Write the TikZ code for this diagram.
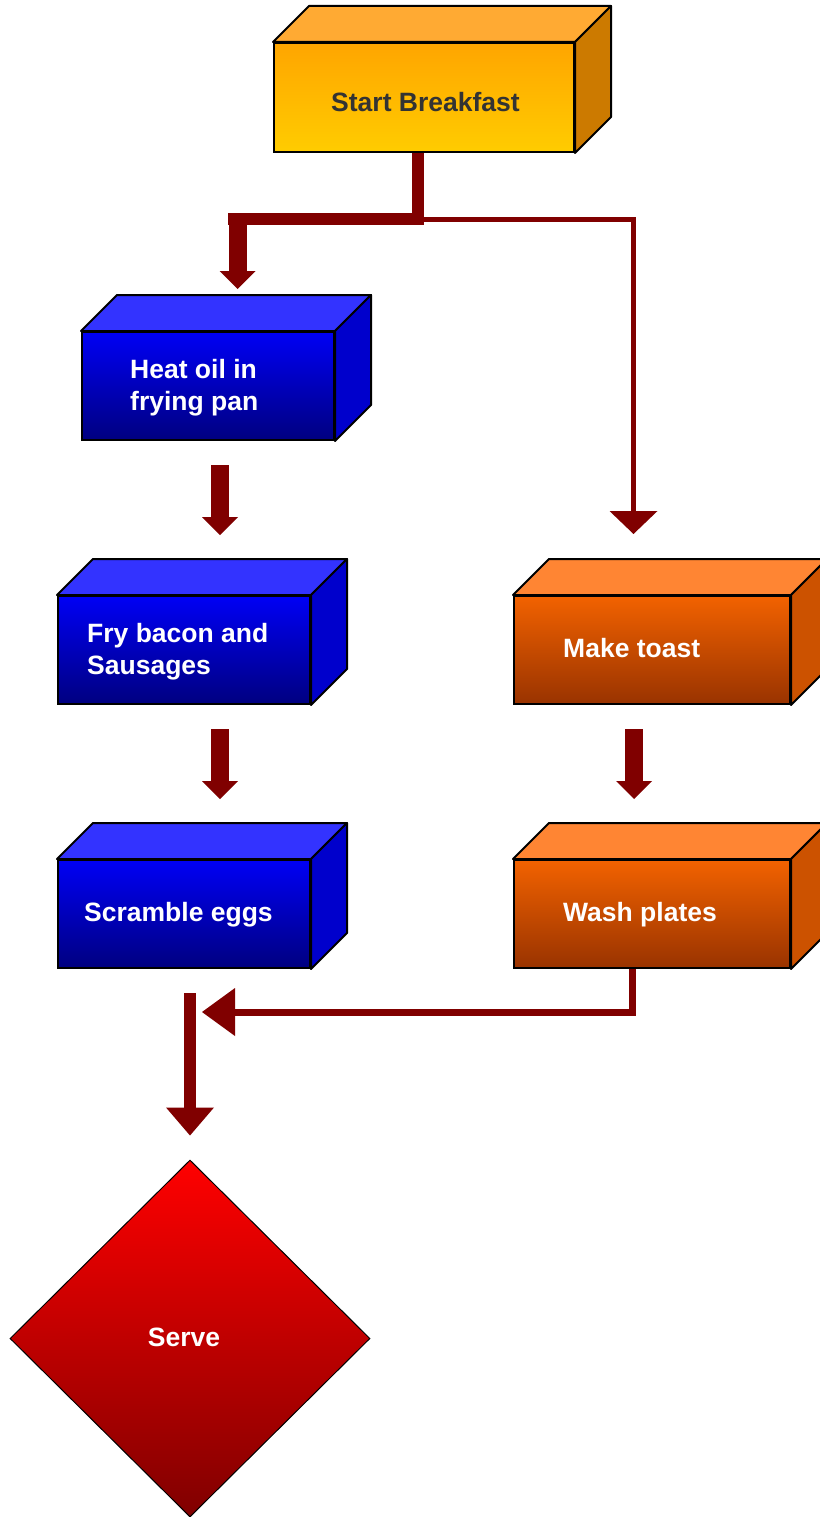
\documentclass[tikz,border=0pt]{standalone}
\usepackage{fontspec}
\setmainfont{Liberation Sans}
\usetikzlibrary{arrows.meta,shapes.geometric}
\definecolor{arrowred}{RGB}{128,0,0}
\definecolor{startTop}{RGB}{255,170,51}
\definecolor{startSide}{RGB}{204,122,0}
\definecolor{startHi}{RGB}{255,165,0}
\definecolor{startLo}{RGB}{255,204,0}
\definecolor{blueTop}{RGB}{51,51,255}
\definecolor{blueSide}{RGB}{0,0,204}
\definecolor{blueHi}{RGB}{0,0,245}
\definecolor{blueLo}{RGB}{0,0,128}
\definecolor{toastTop}{RGB}{255,133,51}
\definecolor{toastSide}{RGB}{204,82,0}
\definecolor{toastHi}{RGB}{242,98,0}
\definecolor{toastLo}{RGB}{153,51,0}
\definecolor{serveHi}{RGB}{255,0,0}
\definecolor{serveLo}{RGB}{128,0,0}
\tikzset{
  face/.style={rectangle,draw,line width=2pt,inner sep=0pt},
  lbl/.style={inner sep=0pt,text=white,align=left,font=\bfseries\fontsize{26.5}{32}\selectfont},
  fat/.style={draw=arrowred,line width=18pt,-{Triangle[width=36pt,length=18pt,line width=0pt]}},
  bar/.style={draw=arrowred,line width=12pt},
  slim/.style={draw=arrowred,line width=5pt,-{Triangle[width=48pt,length=23pt,line width=0pt]}},
  back/.style={draw=arrowred,line width=7pt,-{Triangle[width=48pt,length=33pt,line width=0pt]}},
  down/.style={draw=arrowred,line width=12pt,-{Triangle[width=48pt,length=28pt,line width=0pt]}}
}
\begin{document}
\begin{tikzpicture}[x=1pt,y=-1pt]
  \useasboundingbox[fill=white] (0,0) rectangle (819,1517);
  % front faces
  \node[face,minimum width=300pt,minimum height=109pt,top color=startHi,bottom color=startLo] (S) at (424,97.5) {};
  \node[face,minimum width=252pt,minimum height=108pt,top color=blueHi,bottom color=blueLo] (H) at (208,386) {};
  \node[face,minimum width=252pt,minimum height=108pt,top color=blueHi,bottom color=blueLo] (F) at (184,650) {};
  \node[face,minimum width=252pt,minimum height=108pt,top color=blueHi,bottom color=blueLo] (E) at (184,914) {};
  \node[face,minimum width=276pt,minimum height=108pt,top color=toastHi,bottom color=toastLo] (T) at (652,650) {};
  \node[face,minimum width=276pt,minimum height=108pt,top color=toastHi,bottom color=toastLo] (W) at (652,914) {};
  \node[diamond,draw,line width=1pt,inner sep=0pt,minimum width=360pt,minimum height=357pt,top color=serveHi,bottom color=serveLo] (D) at (190,1338.5) {};
  % top and side faces
  \foreach \n/\tc/\sc in {S/startTop/startSide,H/blueTop/blueSide,F/blueTop/blueSide,E/blueTop/blueSide,T/toastTop/toastSide,W/toastTop/toastSide}{
    \filldraw[fill=\tc,line width=2pt,line join=round] (\n.north west) -- ++(36,-36) -- ([shift={(36,-36)}]\n.north east) -- (\n.north east) -- cycle;
    \filldraw[fill=\sc,line width=2pt,line join=round] (\n.north east) -- ++(36,-36) -- ([shift={(36,-36)}]\n.south east) -- (\n.south east) -- cycle;
  }
  % labels
  \node[lbl,text={rgb,255:red,51;green,51;blue,51}] (Stxt) at (425.5,102.5) {Start Breakfast};
  \node[lbl,anchor=west] (Htxt) at (130,387.5) {Heat oil in\\frying pan};
  \node[lbl,anchor=west] (Ftxt) at (87,651.5) {Fry bacon and\\Sausages};
  \node[lbl,anchor=west] (Etxt) at (84,914.5) {Scramble eggs};
  \node[lbl,anchor=west] (Ttxt) at (563,648) {Make toast};
  \node[lbl,anchor=west] (Wtxt) at (563,914.5) {Wash plates};
  \node[lbl] (Dtxt) at (184,1337.5) {Serve};
  % connectors
  \coordinate (fork) at (418,219);
  \coordinate (forkL) at (237.5,213);
  \draw[bar] ([xshift=-6pt]S.south) -- (fork) -- (228,219);
  \draw[fat] (forkL) -- ([shift={(29.5,-42)}]H.north);
  \draw[slim] (fork) -| ([shift={(-18.5,-61)}]T.north);
  \draw[fat] ([shift={(12,24)}]H.south) -- ([shift={(36,-60)}]F.north);
  \draw[fat] ([shift={(36,24)}]F.south) -- ([shift={(36,-60)}]E.north);
  \draw[fat] ([shift={(-18,24)}]T.south) -- ([shift={(-18,-60)}]W.north);
  \coordinate (merge) at (202,1012);
  \draw[back] ([xshift=-20pt]W.south) |- (merge);
  \draw[down] ([shift={(6,24)}]E.south) -- ([shift={(0,-24)}]D.north);
\end{tikzpicture}
\end{document}
